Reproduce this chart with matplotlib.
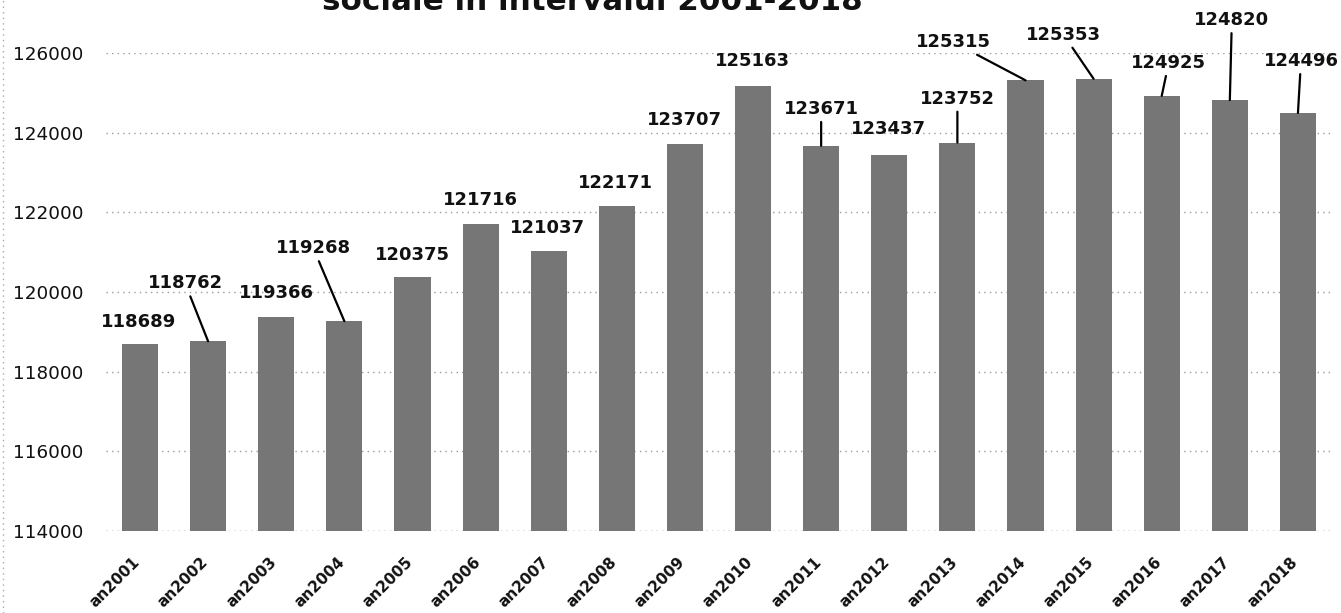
"""Bar chart 2001-2018 with Excel-style data labels and leader lines."""
import matplotlib
matplotlib.use("Agg")
import matplotlib.pyplot as plt
from matplotlib.transforms import ScaledTranslation

years = [f"an{y}" for y in range(2001, 2019)]
values = [118689, 118762, 119366, 119268, 120375, 121716, 121037, 122171,
          123707, 125163, 123671, 123437, 123752, 125315, 125353, 124925,
          124820, 124496]
y_ticks = [114000, 116000, 118000, 120000, 122000, 124000, 126000]
title = "sociale în intervalul 2001-2018"

# label placement (offset in pixels from bar top) and whether a leader line is drawn
label_dx = [-1, -23, 0, -31, 0, 0, -1, -1, 0, -1, 0, -1, 0, -72, -30, 7, 2, 3]
label_dy = [22, 58, 24, 73, 22, 24, 23, 23, 24, 25, 37, 26, 44, 38, 44, 33, 80, 52]
leader = [False, True, False, True, False, False, False, False, False, False,
          True, False, True, True, True, True, True, True]

BAR = "#767676"
FONT = "DejaVu Sans"


def main():
    fig = plt.figure(figsize=(13.41, 6.13), dpi=100)
    ax = fig.add_axes([0.079, 0.1338, 0.9143, 0.7797])

    x = list(range(len(years)))
    ax.bar(x, [v - y_ticks[0] for v in values], bottom=y_ticks[0],
           width=0.53, color=BAR, zorder=2)

    ax.set_xlim(-0.5, len(years) - 0.5)
    ax.set_ylim(y_ticks[0], y_ticks[-1])
    ax.set_yticks(y_ticks)
    ax.set_yticklabels([str(t) for t in y_ticks], fontsize=13.2,
                       family=FONT, color="#111111")
    ax.set_xticks(x)
    ax.set_xticklabels(years, rotation=45, ha="right", fontsize=11,
                       fontweight="bold", family=FONT, color="#111111")
    ax.tick_params(axis="y", length=0, pad=16)
    ax.tick_params(axis="x", length=0, pad=17)
    shift = ScaledTranslation(3 / 100, 0, fig.dpi_scale_trans)
    for lab in ax.get_xticklabels():
        lab.set_transform(lab.get_transform() + shift)

    ax.grid(axis="y", linestyle=(0, (1, 3)), color="#9a9a9a", lw=1, zorder=0)
    for s in ax.spines.values():
        s.set_visible(False)
    ax.axhline(y_ticks[0], color="#9a9a9a", lw=1, linestyle=(0, (1, 3)), zorder=1)

    for i, v in enumerate(values):
        props = None
        if leader[i]:
            props = dict(arrowstyle="-", color="black", lw=1.6,
                         shrinkA=1, shrinkB=0)
        ax.annotate(str(v), (i, v), xytext=(label_dx[i], label_dy[i]),
                    textcoords="offset pixels", ha="center", va="center",
                    fontsize=13, fontweight="bold", family=FONT,
                    color="#111111", arrowprops=props, annotation_clip=False,
                    zorder=4)

    # title is cut by the top edge of the scan, as in the original
    fig.text(0.442, 1 - 10 / 613, title, ha="center", va="baseline",
             fontsize=22.3, fontweight="bold", family=FONT, color="#111111")

    # scanned page edge on the left
    fig.add_artist(plt.Line2D([3 / 1341, 3 / 1341], [0, 1], color="#aaaaaa",
                              lw=1, linestyle=(0, (1, 3)),
                              transform=fig.transFigure))

    fig.savefig("out.png", dpi=100, facecolor="white")
    plt.close(fig)


if __name__ == "__main__":
    main()
